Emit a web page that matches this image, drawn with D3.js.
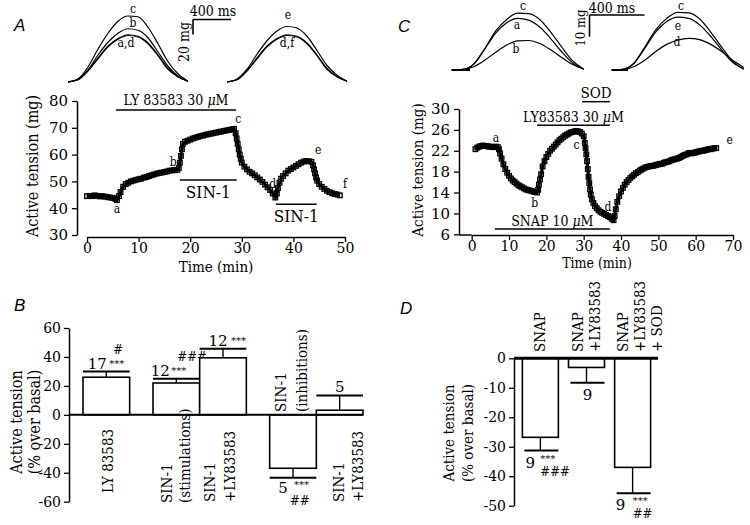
<!DOCTYPE html>
<html><head><meta charset="utf-8">
<script src="https://cdn.jsdelivr.net/npm/d3@7"></script>
<style>body{margin:0;background:#fff}svg{display:block}</style>
</head><body><svg id="c" width="750" height="525"></svg>
<script>
// ---------------- DATA ----------------
const timeA = [0,0.5,1,1.5,2,2.5,3,3.5,4,4.5,5,5.5,5.8,6.2,6.5,7,7.5,8,8.5,9,9.5,10,10.5,11,11.5,12,12.5,13,13.5,14,14.5,15,15.5,16,16.5,17,17.5,17.8,18,18.2,18.4,18.6,19,19.5,20,20.5,21,21.5,22,22.5,23,23.5,24,24.5,25,25.5,26,26.5,27,27.5,28,28.5,28.8,29,29.2,29.4,29.6,29.8,30,30.5,31,31.5,32,32.5,33,33.5,34,34.5,35,35.5,36,36.5,36.8,37,37.3,37.6,38,38.5,39,39.5,40,40.5,41,41.5,42,42.5,43,43.5,43.8,44,44.2,44.4,44.6,45,45.5,46,46.5,47,47.5,48,48.5,49];
const tensionA = [44.5,44.6,44.5,44.8,44.6,44.4,44.5,44.3,44.1,44.0,43.8,43.5,43.0,44.5,46.0,48.0,49.0,49.5,50.0,50.3,50.6,50.8,51.0,51.4,51.6,52.0,52.3,52.6,52.9,53.1,53.3,53.5,53.7,54.0,54.1,54.2,54.3,55.0,57.0,59.5,62.0,64.0,64.8,65.2,65.6,66.0,66.3,66.6,66.9,67.1,67.4,67.6,67.8,68.0,68.2,68.4,68.6,68.8,69.0,69.2,69.4,69.6,68.0,66.0,64.0,62.0,60.0,58.5,57.0,55.5,54.5,53.6,53.0,52.3,51.5,50.7,49.8,48.8,47.8,46.8,45.5,44.0,45.5,47.5,49.5,51.0,52.0,53.0,54.0,54.6,55.2,55.8,56.4,57.0,57.4,57.6,57.5,57.3,56.0,54.5,53.0,51.5,50.3,49.0,48.0,47.2,46.5,46.0,45.6,45.3,45.1,44.8];
const timeC = [1,1.5,2,2.5,3,3.5,4,4.5,5,5.5,6,6.5,7,7.3,7.6,8,8.5,9,9.5,10,10.5,11,11.5,12,12.5,13,13.5,14,14.5,15,15.5,16,16.5,17,17.5,17.8,18,18.3,18.6,19,19.5,20,20.5,21,21.5,22,22.5,23,23.5,24,24.5,25,25.5,26,26.5,27,27.5,28,28.5,29,29.5,30,30.3,30.5,30.7,30.9,31.1,31.3,31.5,31.7,31.9,32.2,32.6,33,33.5,34,34.5,35,35.5,36,36.5,37,37.5,38,38.3,38.6,39,39.5,40,40.5,41,41.5,42,42.5,43,43.5,44,44.5,45,45.5,46,46.5,47,47.5,48,48.5,49,49.5,50,50.5,51,51.5,52,52.5,53,53.5,54,54.5,55,55.5,56,56.5,57,57.5,58,58.5,59,59.5,60,60.5,61,61.5,62,62.5,63,63.5,64,64.5,65,65.5];
const tensionC = [22.3,22.6,22.8,22.9,23.0,22.9,22.9,22.8,22.8,22.7,22.7,22.8,22.7,22.3,21.5,20.5,19.4,18.5,17.8,17.2,16.7,16.3,16.0,15.7,15.4,15.2,15.0,14.8,14.6,14.5,14.4,14.3,14.2,14.1,14.0,14.5,15.5,16.5,17.5,19.0,20.0,20.8,21.4,22.0,22.4,22.8,23.2,23.6,24.0,24.3,24.6,24.9,25.1,25.3,25.5,25.6,25.7,25.8,25.7,25.6,25.3,24.8,23.5,22.5,21.3,20.0,18.5,17.0,15.8,14.6,13.6,12.7,12.0,11.4,11.0,10.6,10.3,10.1,9.9,9.7,9.5,9.3,9.0,8.7,9.5,10.8,12.2,13.3,14.2,14.9,15.5,16.0,16.4,16.8,17.1,17.4,17.7,17.9,18.2,18.4,18.6,18.8,18.9,19.0,19.1,19.1,19.2,19.3,19.4,19.5,19.5,19.7,19.8,19.9,20.0,20.2,20.3,20.4,20.5,20.6,20.8,21.0,21.2,21.3,21.5,21.6,21.5,21.6,21.7,21.8,21.9,22.0,22.0,22.1,22.2,22.3,22.3,22.4,22.5,22.5];

const twitchTimeA = [0,105,210,315,420,525,630,735,840,945,1050,1155,1260];
const twitchA_c = [0,4,20,44,65,81,88,87,73,51,27,11,1];
const twitchA_b = [0,4,16,36,53,65,71,69,59,40,21,8,1];
const twitchA_a = [0,3,15,31,47,57,62,60,51,35,17,7,1];
const twitchA_d = [0,3,15,32,48,58,63,61,52,36,18,7,1];
const twitchA_e = [0,4,17,37,55,68,74,72,61,42,22,9,1];
const twitchA_f = [0,3,15,31,47,57,62,60,51,35,17,7,1];
const twitchTimeC = [0,80,160,240,320,400,480,560,640,720,800,880,960];
const twitchC_c = [0,0.3,2.7,9.8,18,23.3,26.2,26,23.3,17.5,10.6,4.2,0.5];
const twitchC_a = [0,0.3,2.7,9.6,17,21.8,23.8,23,19.8,14.5,8.4,3.2,0.4];
const twitchC_b = [0,0.2,1.5,4.5,8.2,11.5,13.4,13.6,12.2,9.3,5.8,2.5,0.4];
const twitchC_c2 = [0,0.3,3,10.5,18.5,23.8,26.6,26.3,23.5,17.5,10.5,4,0.5];
const twitchC_e = [0,0.3,3,10,17.5,22.3,24.4,23.8,20.8,15.5,9.2,3.5,0.4];
const twitchC_d = [0,0.2,1.5,4.5,8.5,11.8,13.8,14.6,14,11.8,8.5,4.5,1.2];

const drugNamesA = ["LY 83583 30 ", "SIN-1", "SIN-1"];
const drugStartA = [5.6, 18, 36.6];
const drugEndA = [28.9, 29, 44.5];
const drugLevelA = [76.6, 50.5, 41.5];
const drugNamesC = ["SOD", "LY83583 30 ", "SNAP 10 "];
const drugStartC = [29.6, 17.5, 6.2];
const drugEndC = [37, 37, 37];
const drugLevelC = [31.4, 26.9, 7.0];

const markA = ["a","b","c","d","e","f"];
const markAt = [5.8, 16.7, 29.3, 36.0, 44.8, 50.0];
const markAv = [39.7, 57.2, 73.3, 49.0, 61.7, 49.0];
const markC = ["a","b","c","d","e"];
const markCt = [6.5, 16.9, 28.1, 36.5, 69.1];
const markCv = [24.4, 12.0, 23.1, 11.3, 24.1];

const ticksAY = [30,40,50,60,70,80];
const ticksAX = [0,10,20,30,40,50];
const ticksCY = [6,10,14,18,22,26,30];
const ticksCX = [0,10,20,30,40,50,60,70];
const ticksB = [-60,-40,-20,0,20,40,60];
const ticksD = [-50,-40,-30,-20,-10,0];

const labelsB = [["LY 83583"],["SIN-1","(stimulations)"],["SIN-1","+LY83583"],["SIN-1","(inhibitions)"],["SIN-1","+LY83583"]];
const valuesB = [26, 22, 39.4, -36.9, 3.2];
const errorsB = [3.9, 2.9, 6.2, 6.6, 10.2];
const nB = ["17","12","12","5","5"];
const starsB = ["***","***","***","***",""];
const hashB = ["#","###","","##",""];
const labelsD = [["SNAP"],["SNAP","+LY83583"],["SNAP","+LY83583","+ SOD"]];
const valuesD = [-26.8, -3.1, -37.0];
const errorsD = [4.5, 5.2, 8.8];
const nD = ["9","9","9"];
const starsD = ["***","","***"];
const hashD = ["###","","##"];

// ---------------- DRAWING ----------------
const SERIF = '"DejaVu Serif Condensed","DejaVu Serif",serif';
const NUM = '"DejaVu Serif",serif';
const svg = d3.select("#c");
svg.append("rect").attr("width",750).attr("height",525).attr("fill","#fff");

function T(x, y, s, size, opt = {}) {
  const t = svg.append("text").attr("x", x).attr("y", y)
    .style("font-family", opt.family || SERIF).attr("font-size", size)
    .attr("text-anchor", opt.anchor || "middle").attr("fill", "#000").text(s);
  if (opt.rot) t.attr("transform", `rotate(${opt.rot},${x},${y})`);
  if (opt.style) t.attr("font-style", opt.style);
  return t;
}
function styleAxis(g, fs) {
  g.selectAll("path").attr("stroke","#000").attr("stroke-width",1.5);
  g.selectAll("line").attr("stroke","#000").attr("stroke-width",1.3);
  g.selectAll("text").style("font-family",NUM).attr("font-size",fs).attr("fill","#000");
}
function drawTrace(x, y, ts, vs) {
  const line = d3.line().x(d => x(d)).y((d, i) => y(vs[i]));
  svg.append("path").attr("d", line(ts)).attr("fill","none").attr("stroke","#000").attr("stroke-width",3.2);
  svg.append("g").selectAll("rect").data(ts).enter().append("rect")
    .attr("x", d => x(d) - 2.3).attr("y", (d, i) => y(vs[i]) - 2.3)
    .attr("width", 4.6).attr("height", 4.6)
    .attr("fill", "none").attr("stroke", "#000").attr("stroke-width", 1.3);
}
function drawTwitch(x, y, ts, vs, w) {
  const line = d3.line().x(d => x(d)).y((d, i) => y(vs[i])).curve(d3.curveMonotoneX);
  svg.append("path").attr("d", line(ts)).attr("fill","none").attr("stroke","#000").attr("stroke-width", w || 1.1);
}
function hline(x1, x2, y, w) {
  svg.append("line").attr("x1",x1).attr("x2",x2).attr("y1",y).attr("y2",y).attr("stroke","#000").attr("stroke-width",w||1.5);
}
function vline(x, y1, y2, w) {
  svg.append("line").attr("x1",x).attr("x2",x).attr("y1",y1).attr("y2",y2).attr("stroke","#000").attr("stroke-width",w||1.5);
}
function muLabel(x, y, name, size) {
  const t = T(x, y, name, size);
  t.append("tspan").attr("font-style","italic").text("\u03bc");
  t.append("tspan").text("M");
}

const LET = '"Liberation Sans",Arial,sans-serif';
[["A",14,31],["C",398,32],["B",14,311],["D",400,314]].forEach(p =>
  T(p[1], p[2], p[0], 17, {family: LET, style: "italic", anchor: "start"}));

// ---- Panel A twitches ----
const twYA = d3.scaleLinear().domain([0, 100]).range([82, 7]);
const twXA1 = d3.scaleLinear().domain([0, 1260]).range([68, 188]);
const twXA2 = d3.scaleLinear().domain([0, 1260]).range([227, 347]);
[twitchA_a, twitchA_d, twitchA_b, twitchA_c].forEach(v => drawTwitch(twXA1, twYA, twitchTimeA, v, 1.2));
[twitchA_d, twitchA_f, twitchA_e].forEach(v => drawTwitch(twXA2, twYA, twitchTimeA, v, 1.2));
T(133, 13, "c", 12); T(133, 27, "b", 12); T(126, 47, "a,d", 12);
T(288, 19, "e", 12); T(287, 47, "d,f", 12);
{
  const x0 = 193, y0 = 19.5;
  hline(x0, x0 + twXA1(400) - twXA1(0), y0, 1.6);
  vline(x0, y0, y0 + twYA(0) - twYA(20), 1.6);
  T(213, 16, "400 ms", 14);
  T(189, 42, "20 mg", 14, {rot: -90});
}

// ---- Panel C twitches ----
const twYC = d3.scaleLinear().domain([0, 10]).range([70, 48.3]);
const twXC1 = d3.scaleLinear().domain([0, 960]).range([451.7, 583.7]);
const twXC2 = d3.scaleLinear().domain([0, 960]).range([611.7, 743.7]);
[twitchC_b, twitchC_a, twitchC_c].forEach(v => drawTwitch(twXC1, twYC, twitchTimeC, v, 1.2));
[twitchC_d, twitchC_e, twitchC_c2].forEach(v => drawTwitch(twXC2, twYC, twitchTimeC, v, 1.2));
hline(451.7, 470, 70, 2); hline(611.7, 628, 70, 2);
T(523, 10, "c", 12); T(517, 29, "a", 12); T(516, 53, "b", 12);
T(681, 10, "c", 12); T(678, 30, "e", 12); T(677, 46, "d", 12);
{
  const x0 = 589.5, y0 = 15;
  hline(x0, x0 + twXC1(400) - twXC1(0), y0, 1.6);
  vline(x0, y0, y0 + twYC(0) - twYC(10), 1.6);
  T(612, 12.5, "400 ms", 14);
  T(585, 28, "10 mg", 13, {rot: -90});
}

// ---- Panel A time course ----
const xA = d3.scaleLinear().domain([0, 50]).range([87, 345]);
const yA = d3.scaleLinear().domain([30, 80]).range([235, 101]);
styleAxis(svg.append("g").attr("transform","translate(77,0)")
  .call(d3.axisLeft(yA).tickValues(ticksAY).tickSize(5).tickSizeOuter(0).tickPadding(4).tickFormat(d => String(d))), 15);
styleAxis(svg.append("g").attr("transform","translate(0,237)")
  .call(d3.axisBottom(xA).tickValues(ticksAX).tickSize(5).tickSizeOuter(0).tickPadding(1).tickFormat(d => String(d))), 14);
T(38, 166, "Active tension (mg)", 16, {rot: -90});
T(216, 272, "Time (min)", 15);
drawTrace(xA, yA, timeA, tensionA);
drugNamesA.forEach((n, i) => {
  hline(xA(drugStartA[i]), xA(drugEndA[i]), yA(drugLevelA[i]), 1.5);
  const cx = xA((drugStartA[i] + drugEndA[i]) / 2);
  if (i === 0) muLabel(cx, yA(drugLevelA[i]) - 5, n, 14);
  else T(cx, yA(drugLevelA[i]) + 18, n, 17);
});
markA.forEach((m, i) => T(xA(markAt[i]), yA(markAv[i]) + 4, m, 12));

// ---- Panel C time course ----
const xC = d3.scaleLinear().domain([0, 70]).range([471.7, 733]);
const yC = d3.scaleLinear().domain([6, 30]).range([234.3, 109]);
styleAxis(svg.append("g").attr("transform","translate(459,0)")
  .call(d3.axisLeft(yC).tickValues(ticksCY).tickSize(5).tickSizeOuter(0).tickPadding(4).tickFormat(d => String(d))), 15);
styleAxis(svg.append("g").attr("transform","translate(0,235)")
  .call(d3.axisBottom(xC).tickValues(ticksCX).tickSize(5).tickSizeOuter(0).tickPadding(1).tickFormat(d => String(d))), 14);
hline(459, 471.7, 235, 1.5);
T(423, 170, "Active tension (mg)", 15, {rot: -90});
T(597, 268, "Time (min)", 14);
drawTrace(xC, yC, timeC, tensionC);
drugNamesC.forEach((n, i) => {
  hline(xC(drugStartC[i]), xC(drugEndC[i]), yC(drugLevelC[i]), 1.5);
  const cx = xC((drugStartC[i] + drugEndC[i]) / 2);
  if (i === 0) T(cx, yC(drugLevelC[i]) - 4, n, 15);
  else muLabel(cx, yC(drugLevelC[i]) - 3.5, n, 14);
});
markC.forEach((m, i) => T(xC(markCt[i]), yC(markCv[i]) + 4, m, 12));

// ---- Panel B bars ----
const yB = d3.scaleLinear().domain([-60, 60]).range([501.7, 328]);
const slotB = d3.scaleLinear().domain([0, 6]).range([83, 363]);
const slotsB = [0, 1.5, 2.5, 4, 5];
const labOffB = [[2], [-9, 9], [-13, 7], [-12, 9], [-1, 18]];
const labBaseB = [493, 503, 502, 412, 502];
const annB = [[-9, 3, 7], [-16, -5, 1], [-5, 8, 0], [-10, 1, -3], [0, 0, 0]];
styleAxis(svg.append("g").attr("transform","translate(69,0)")
  .call(d3.axisLeft(yB).tickValues(ticksB).tickSize(5).tickSizeOuter(0).tickPadding(3).tickFormat(d => String(d))), 14);
T(22, 422, "Active tension", 16, {rot: -90});
T(40, 422, "(% over basal)", 16, {rot: -90});
const bw = slotB(1) - slotB(0);
valuesB.forEach((v, i) => {
  const x = slotB(slotsB[i]), cx = x + bw / 2;
  const y0 = yB(0), y1 = yB(v), ye = yB(v + Math.sign(v) * errorsB[i]);
  svg.append("rect").attr("x", x).attr("y", Math.min(y0, y1)).attr("width", bw).attr("height", Math.abs(y1 - y0))
    .attr("fill", "#fff").attr("stroke", "#000").attr("stroke-width", 1.6);
  vline(cx, y1, ye, 1.4);
  hline(x, x + bw, ye, 2);
  labelsB[i].forEach((l, j) => T(cx + labOffB[i][j] + 5, labBaseB[i], l, 15, {rot: -90, anchor: "start"}));
  const a = annB[i];
  if (v > 0) {
    T(cx + a[0], ye - 3, nB[i], 15, {family: NUM});
    if (starsB[i]) T(cx + a[1], ye - 5, starsB[i], 10, {family: NUM, anchor: "start"});
    if (hashB[i]) T(cx + a[2], ye - 18, hashB[i], 13, {anchor: "start", style: "italic"});
  } else {
    T(cx + a[0], ye + 15, nB[i], 15, {family: NUM});
    if (starsB[i]) T(cx + a[1], ye + 10, starsB[i], 10, {family: NUM, anchor: "start"});
    if (hashB[i]) T(cx + a[2], ye + 27, hashB[i], 13, {anchor: "start", style: "italic"});
  }
});
hline(69, slotB(6), yB(0), 2);

// ---- Panel D bars ----
const yD = d3.scaleLinear().domain([-50, 0]).range([505.7, 358.3]);
const xD = d3.scaleBand().domain(d3.range(valuesD.length)).range([521, 652]).paddingInner(0.22).paddingOuter(0.03);
const labOffD = [[0], [-8.3, 8.3], [-9.3, 7.3, 24]];
const annD = [[-10, 0, 0], [1, 0, 0], [-12, 0, 0]];
styleAxis(svg.append("g").attr("transform","translate(514,0)")
  .call(d3.axisLeft(yD).tickValues(ticksD).tickSize(5).tickSizeOuter(0).tickPadding(3).tickFormat(d => String(d))), 14);
T(454, 433, "Active tension", 15, {rot: -90});
T(473, 433, "(% over basal)", 15, {rot: -90});
valuesD.forEach((v, i) => {
  const x = xD(i), w = xD.bandwidth(), cx = x + w / 2;
  const y0 = yD(0), y1 = yD(v), ye = yD(v - errorsD[i]);
  svg.append("rect").attr("x", x).attr("y", y0).attr("width", w).attr("height", y1 - y0)
    .attr("fill", "#fff").attr("stroke", "#000").attr("stroke-width", 1.6);
  vline(cx, y1, ye, 1.4);
  hline(x + 2, x + w, ye, 2);
  labelsD[i].forEach((l, j) => T(cx + labOffD[i][j] + 5, 352, l, 15, {rot: -90, anchor: "start"}));
  const a = annD[i];
  T(cx + a[0], ye + 17, nD[i], 15, {family: NUM});
  if (starsD[i]) T(cx + a[1], ye + 11, starsD[i], 10, {family: NUM, anchor: "start"});
  if (hashD[i]) T(cx + a[2], ye + 25, hashD[i], 13, {anchor: "start", style: "italic"});
});
hline(514, 658, yD(0), 3);
</script></body></html>
